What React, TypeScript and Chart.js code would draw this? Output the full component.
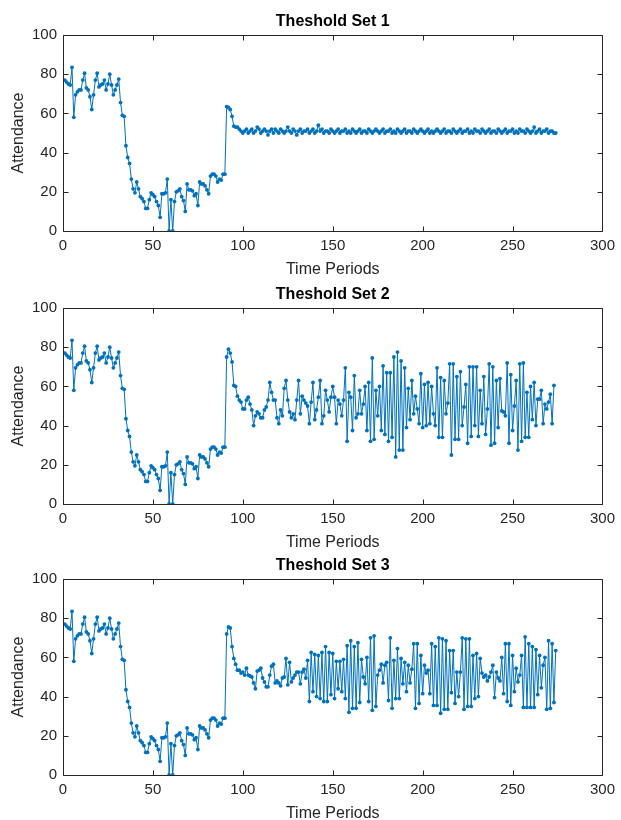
import React, { useEffect, useRef } from 'react';
import { Chart, registerables } from 'chart.js';

Chart.register(...registerables);

// ---------------- DATA ----------------
// Shared opening phase (periods 1..90), identical in all three threshold sets
const openingPhase = [
  77, 76, 75, 74.5, 83.5, 58, 69.5, 71, 72, 72,
  77, 80.5, 73, 72, 68.5, 62, 69.5, 77, 80.5, 73.5,
  74.5, 75, 77, 72, 75, 80, 74.5, 69.5, 72, 74.5,
  77.5, 65.5, 59, 58.5, 43.5, 37.5, 34.5, 26.5, 21.5, 19.5,
  25, 21.5, 17.5, 16.5, 15, 11.5, 11.5, 16, 19.5, 18.5,
  17.5, 15, 13, 7, 19, 19, 19.5, 26.5, 0, 16,
  0, 15, 20, 20.5, 21.5, 17.5, 15.5, 10, 24, 21,
  21, 20.5, 18, 19, 13, 25, 24, 24, 23, 21,
  19, 28, 29, 29, 28, 25, 26.5, 26, 29, 29,
];

const set1Tail = [
  63.5, 63, 62, 58.5, 53.5, 53, 53, 52, 51, 50, 51,
  52, 50, 51, 52, 50, 51, 53, 52, 50, 51,
  52, 51, 49, 51, 52, 50, 52, 51, 50, 52,
  51, 50, 51, 53, 51, 50, 52, 51, 49, 51,
  52, 50, 51, 51, 52, 50, 51, 52, 50, 51,
  54, 51, 52, 50, 51, 51, 50, 52, 51, 50,
  51, 52, 50, 51, 51, 52, 50, 51, 50, 52,
  51, 50, 51, 52, 50, 51, 51, 50, 52, 51,
  50, 51, 52, 51, 50, 51, 52, 50, 51, 51,
  52, 50, 51, 50, 52, 51, 50, 51, 52, 50,
  51, 51, 50, 52, 51, 50, 51, 52, 51, 50,
  51, 52, 50, 51, 50, 51, 52, 51, 50, 51,
  52, 50, 51, 51, 50, 52, 51, 50, 51, 52,
  50, 51, 51, 52, 50, 51, 50, 52, 51, 51,
  50, 52, 51, 50, 51, 52, 50, 51, 51, 50,
  52, 51, 50, 51, 52, 50, 51, 51, 52, 50,
  51, 50, 52, 51, 51, 50, 52, 51, 50, 51,
  53, 50, 51, 52, 50, 51, 51, 52, 50, 51,
  51, 50, 50,
];

const set2Tail = [
  75, 79, 77, 72.5, 60.5, 60, 55, 53, 52, 48.5,
  48.5, 53, 54.5, 51, 48, 40, 45, 47, 46, 44,
  44, 48, 49.5, 53, 62, 57, 53, 53, 44, 41,
  48, 45, 59, 63, 53, 47, 44, 46, 43, 53,
  63, 46, 55, 53, 51.5, 50, 41, 52, 62, 43,
  48, 54.5, 63, 41,
  45, 58, 53, 47, 54.5, 60, 54.5, 41, 53, 51,
  45, 53, 69.5, 32, 57, 54.5, 37.5, 65.5, 44, 46,
  58, 46, 51, 60, 37.5, 62, 32, 74.5, 33, 58,
  45, 60, 37.5, 70.5, 35.5, 67, 32, 67, 34, 75,
  24, 77.5, 27.5, 73, 27.5, 69.5, 39, 59, 43, 63,
  46, 55, 48.5,
  41, 66.5, 39, 61, 40, 62, 41, 60, 46, 40,
  69.5, 34, 64.5, 34, 63, 46, 51.5, 71.5, 25, 71.5,
  33, 65, 33, 67.5, 40, 49.5, 61, 31, 70, 34.5,
  70, 40, 70, 34.5, 58, 41, 65, 35.5, 48.5, 71.5,
  30, 70, 31, 63, 39, 64, 47.5, 47, 45, 72,
  31, 66,
  37.5, 50, 63, 27.5, 71.5, 32, 72, 34, 57, 34,
  60, 43, 62, 40, 53.5, 53.5, 58, 41, 51, 48.5,
  52, 56, 41, 60.5,
];

const set3Tail = [
  72, 75.5, 75, 65.5, 59.5, 56.5, 53.5, 53.5, 52, 52.5,
  51, 54.5, 51, 50.5, 50, 47, 44, 53, 53.5, 54.5,
  49.5, 47.5, 45, 45, 51, 55.5, 56.5, 47, 48, 47,
  45.5, 49.5, 50, 59.5, 46, 57.5, 47.5, 49.5, 51, 52.5,
  52.5, 46.5, 52.5, 54, 49.5, 58.5, 37.5, 62.5, 42.5, 61.5,
  40, 61, 39, 62.5, 37.5,
  65.5, 37.5, 62.5, 41, 62, 39, 58, 44, 58, 42.5,
  59, 39, 66, 32, 68.5, 34, 65.5, 34, 67.5, 37,
  59, 50, 46.5, 60, 37.5, 70, 33, 71, 35, 51,
  53.5, 56.5, 47, 56, 57.5, 38, 70, 34, 58.5, 39,
  64.5, 39, 59.5, 46.5, 57.5, 42.5, 56, 47, 54, 67,
  34, 67,
  36.5, 61, 41.5, 56, 52, 53.5, 41.5, 67, 35.5, 65.5,
  35.5, 70, 31.5, 69.5, 33.5, 68.5, 33.5, 63.5, 42, 63.5,
  36.5, 52.5, 40, 52.5, 70, 33.5, 69.5, 35, 69.5, 35,
  61, 39, 62, 40, 59.5, 52, 50, 51, 48, 50,
  52.5, 56, 39.5, 52.5, 49.5, 48, 60, 41.5, 67, 37.5,
  67, 35.5, 61,
  42.5, 54.5, 47.5, 51, 61, 34.5, 70.5, 34.5, 67, 34.5,
  65.5, 34.5, 64, 41, 61, 44.5, 56, 60, 33.5, 68.5,
  34, 67, 37, 63.5,
];

const panelTitles = ['Theshold Set 1', 'Theshold Set 2', 'Theshold Set 3'];
const xAxisLabel = 'Time Periods';
const yAxisLabel = 'Attendance';
const xTickValues = [0, 50, 100, 150, 200, 250, 300];
const yTickValues = [0, 20, 40, 60, 80, 100];

const set1 = [...openingPhase, ...set1Tail];
const set2 = [...openingPhase, ...set2Tail];
const set3 = [...openingPhase, ...set3Tail];
const allSets = [set1, set2, set3];

// ---------------- STYLE ----------------
const FONT = '"Liberation Sans", Arial, Helvetica, sans-serif';
const LINE_COLOR = '#0072BD';
const AXIS_COLOR = '#262626';
const CANVAS_W = 621;
const CANVAS_H = 279;
const panelTops = [0, 273, 544];

const framePlugin = {
  id: 'matlabFrame',
  afterDraw(chart: any) {
    const { ctx, chartArea } = chart;
    const xs = chart.scales.x;
    const ys = chart.scales.y;
    const l = Math.round(chartArea.left) + 0.5;
    const r = Math.round(chartArea.right) + 0.5;
    const t = Math.round(chartArea.top) + 0.5;
    const b = Math.round(chartArea.bottom) + 0.5;
    const len = 5;
    ctx.save();
    ctx.strokeStyle = AXIS_COLOR;
    ctx.lineWidth = 1;
    ctx.beginPath();
    ctx.rect(l, t, r - l, b - t);
    xTickValues.forEach((v) => {
      const px = Math.round(xs.getPixelForValue(v)) + 0.5;
      ctx.moveTo(px, b);
      ctx.lineTo(px, b - len);
      ctx.moveTo(px, t);
      ctx.lineTo(px, t + len);
    });
    yTickValues.forEach((v) => {
      const py = Math.round(ys.getPixelForValue(v)) + 0.5;
      ctx.moveTo(l, py);
      ctx.lineTo(l + len, py);
      ctx.moveTo(r, py);
      ctx.lineTo(r - len, py);
    });
    ctx.stroke();
    ctx.restore();
  },
};

function Panel({ title, values, top }: { title: string; values: number[]; top: number }) {
  const ref = useRef<HTMLCanvasElement | null>(null);
  useEffect(() => {
    if (!ref.current) return;
    const periods = values.map((_, i) => i + 1);
    const chart = new Chart(ref.current, {
      type: 'line',
      data: {
        datasets: [
          {
            data: values.map((v, i) => ({ x: periods[i], y: v })),
            borderColor: LINE_COLOR,
            backgroundColor: LINE_COLOR,
            pointBackgroundColor: LINE_COLOR,
            pointBorderColor: LINE_COLOR,
            borderWidth: 1,
            pointRadius: 1.9,
            pointBorderWidth: 0,
            tension: 0,
          },
        ],
      },
      options: {
        animation: false,
        responsive: false,
        events: [],
        layout: { padding: { left: 0, right: 16, top: 0, bottom: 0 } },
        plugins: {
          legend: { display: false },
          tooltip: { enabled: false },
          title: {
            display: true,
            fullSize: false,
            text: title,
            color: '#000000',
            font: { family: FONT, size: 16, weight: 'bold' },
            padding: { top: 12.2, bottom: 3.6 },
          },
        },
        scales: {
          x: {
            type: 'linear',
            min: 0,
            max: 300,
            grid: { display: false, drawTicks: false },
            border: { display: false },
            ticks: {
              stepSize: 50,
              color: AXIS_COLOR,
              font: { family: FONT, size: 15 },
              padding: 6,
              maxRotation: 0,
              autoSkip: false,
            },
            title: {
              display: true,
              text: xAxisLabel,
              color: AXIS_COLOR,
              font: { family: FONT, size: 16 },
              padding: { top: 0, bottom: 0 },
            },
            afterFit(s: any) {
              s.height = 48;
            },
          },
          y: {
            min: 0,
            max: 100,
            grid: { display: false, drawTicks: false },
            border: { display: false },
            ticks: {
              stepSize: 20,
              color: AXIS_COLOR,
              font: { family: FONT, size: 15 },
              padding: 6,
            },
            title: {
              display: true,
              text: yAxisLabel,
              color: AXIS_COLOR,
              font: { family: FONT, size: 16 },
              padding: { top: 9, bottom: 0 },
            },
            afterFit(s: any) {
              s.width = 63;
            },
          },
        },
      },
      plugins: [framePlugin],
    } as any);
    return () => chart.destroy();
  }, [title, values]);
  return (
    <canvas
      ref={ref}
      width={CANVAS_W}
      height={CANVAS_H}
      style={{ position: 'absolute', left: 0, top, width: CANVAS_W, height: CANVAS_H }}
    />
  );
}

export default function App() {
  return (
    <div style={{ position: 'absolute', left: 0, top: 0, width: 621, height: 820, background: '#ffffff', overflow: 'hidden' }}>
      {allSets.map((vals, i) => (
        <Panel key={i} title={panelTitles[i]} values={vals} top={panelTops[i]} />
      ))}
    </div>
  );
}
